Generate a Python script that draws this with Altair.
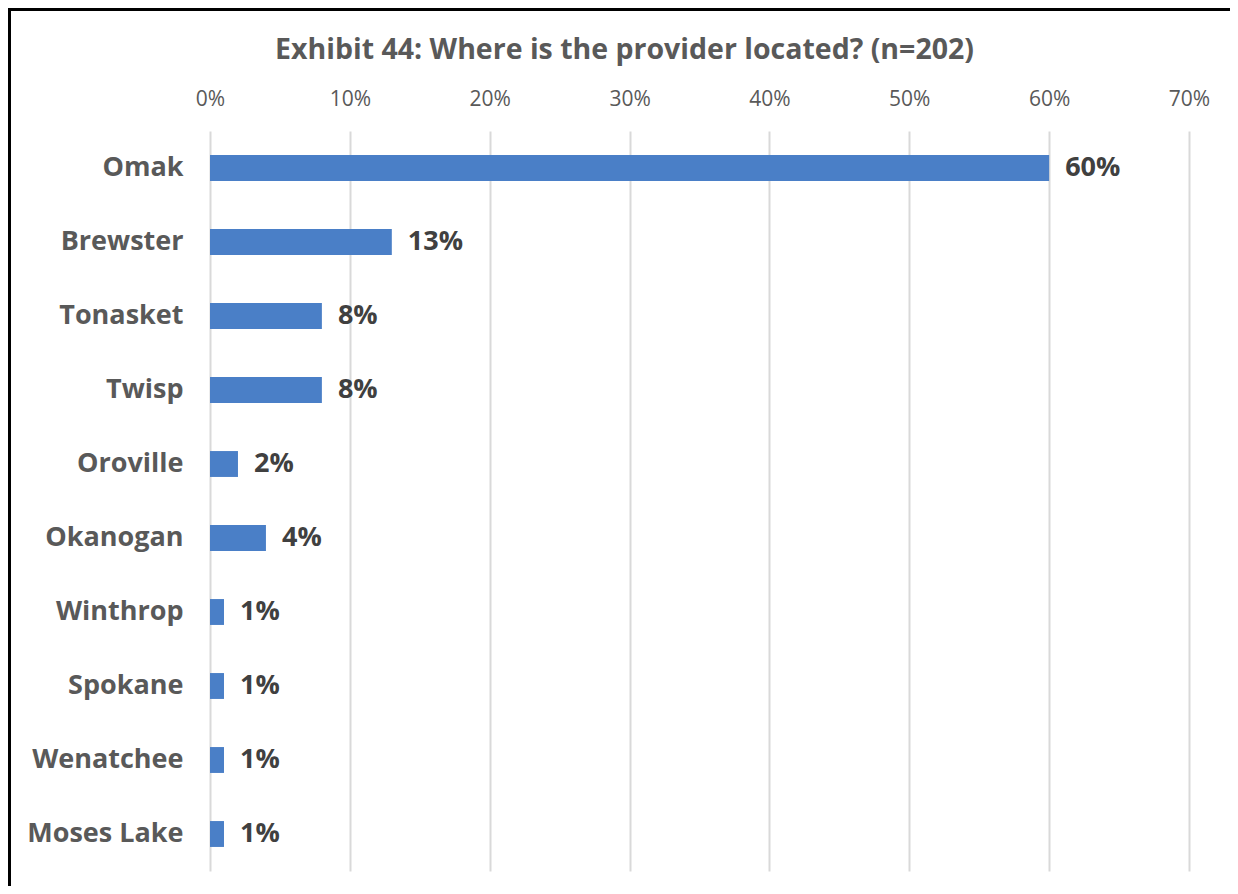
import altair as alt
import pandas as pd

locations = ["Omak", "Brewster", "Tonasket", "Twisp", "Oroville",
             "Okanogan", "Winthrop", "Spokane", "Wenatchee", "Moses Lake"]
shares = [0.60, 0.13, 0.08, 0.08, 0.02, 0.04, 0.01, 0.01, 0.01, 0.01]
x_ticks = [0, 0.1, 0.2, 0.3, 0.4, 0.5, 0.6, 0.7]
title_text = "Exhibit 44: Where is the provider located? (n=202)"

df = pd.DataFrame({"location": locations, "share": shares})

FONT = "Open Sans"
W, H = 979, 740

x_enc = alt.X(
    "share:Q",
    scale=alt.Scale(domain=[0, 0.7], nice=False),
    axis=alt.Axis(
        orient="top", values=x_ticks, format=".0%", title=None,
        labelFont=FONT, labelFontSize=21, labelColor="#595959",
        labelPadding=22, labelFlush=False, ticks=False, domain=False,
        grid=True, gridColor="#d9d9d9", gridWidth=2,
    ),
)
y_enc = alt.Y(
    "location:N", sort=locations, title=None,
    scale=alt.Scale(paddingInner=0.65, paddingOuter=0.325),
    axis=alt.Axis(
        labelFont=FONT, labelFontSize=27, labelFontWeight="bold",
        labelColor="#595959", labelPadding=27, ticks=False, domain=False,
        grid=False,
    ),
)

base = alt.Chart(df)
bars = base.mark_bar(color="#4A7FC7").encode(x=x_enc, y=y_enc)
labels = base.mark_text(
    align="left", baseline="middle", dx=16, font=FONT, fontSize=27,
    fontWeight="bold", color="#404040",
).encode(x="share:Q", y=alt.Y("location:N", sort=locations),
         text=alt.Text("share:Q", format=".0%"))

frame = alt.Chart(pd.DataFrame({"k": [0]})).mark_rect(
    fillOpacity=0, stroke="black", strokeWidth=3,
).encode(
    x=alt.value(-200.5), x2=alt.value(1100),
    y=alt.value(-121.5), y2=alt.value(900),
)

chart = alt.layer(frame, bars, labels).properties(
    width=W, height=H,
    title=alt.Title(title_text, font=FONT, fontSize=28.5, fontWeight="bold",
                    color="#595959", anchor="middle", dx=-75, offset=-56),
    autosize=alt.AutoSizeParams(type="none"),
    padding={"left": 202, "top": 123, "right": 41, "bottom": 15},
).configure_view(stroke=None)

chart.save("out.html", embed_options={"renderer": "svg", "actions": False})
